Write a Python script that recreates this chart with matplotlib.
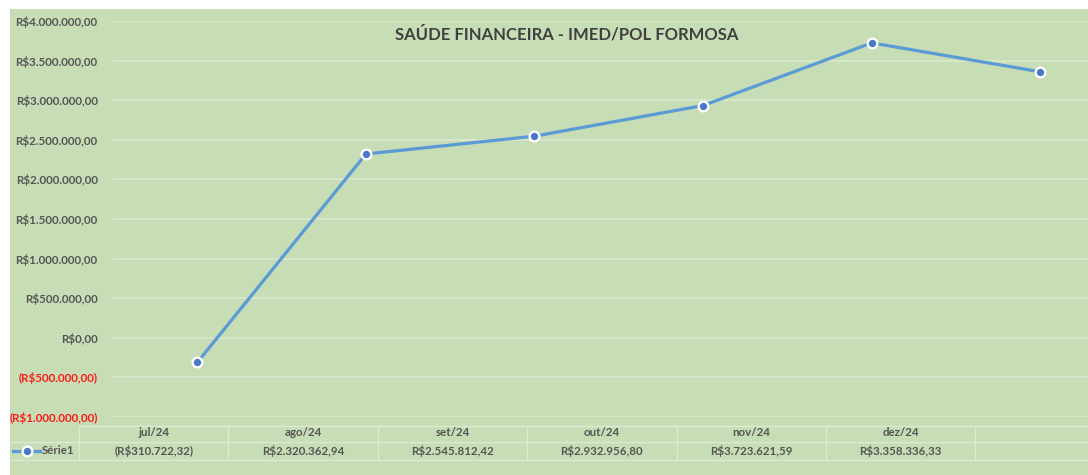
import matplotlib.pyplot as plt
from matplotlib.patches import Rectangle
from matplotlib.lines import Line2D
from matplotlib.ticker import FuncFormatter, MultipleLocator

plt.rcParams['font.family'] = ['Lato', 'DejaVu Sans']

meses = ['jul/24', 'ago/24', 'set/24', 'out/24', 'nov/24', 'dez/24']
saldo = [-310722.32, 2320362.94, 2545812.42, 2932956.80, 3723621.59, 3358336.33]
serie = 'Série1'
titulo = 'SAÚDE FINANCEIRA - IMED/POL FORMOSA'

W, H = 1088, 475
bg = '#c6ddb5'
grid_c = '#dcead0'
txt = '#555555'


def brl(v, pos=None):
    s = f'{abs(v):,.2f}'.replace(',', 'X').replace('.', ',').replace('X', '.')
    return f'(R${s})' if v < 0 else f'R${s}'


fig = plt.figure(figsize=(W / 100, H / 100), dpi=100)
fig.patch.set_facecolor('white')
# fundo verde do grafico (area do Excel)
fig.patches.append(Rectangle((10 / W, 0), 1, (H - 9) / H, transform=fig.transFigure,
                             facecolor=bg, edgecolor='none', zorder=-5))

# eixo: 6 categorias, 168.6 px cada, comecando em x=113 (passa da borda direita)
ax = fig.add_axes([113 / W, (H - 417) / H, 6 * 168.6 / W, 396 / H])
ax.set_facecolor('none')
x = list(range(len(meses)))
ax.plot(x, saldo, color='#5b9bd5', lw=2.3, marker='o', ms=7,
        mfc='#4a78c8', mec='white', mew=1.7, zorder=3, solid_capstyle='round')
ax.set_xlim(-0.5, len(meses) - 0.5)
ax.set_ylim(-1_000_000, 4_000_000)
ax.yaxis.set_major_locator(MultipleLocator(500_000))
ax.yaxis.set_major_formatter(FuncFormatter(brl))
ax.grid(axis='y', color=grid_c, lw=1.1)
ax.set_axisbelow(True)
ax.set_xticks([])
for s in ax.spines.values():
    s.set_visible(False)
ax.tick_params(axis='y', length=0, pad=11, labelsize=8.3, labelcolor=txt)
fig.canvas.draw()
for lab in ax.get_yticklabels():
    lab.set_fontweight('bold')
    if lab.get_text().startswith('('):
        lab.set_color('#ff1a1a')

fig.text(567 / W, 1 - 34 / H, titulo, ha='center', va='center',
         fontsize=12, fontweight='bold', color='#404040')

# tabela de dados abaixo do grafico
col0, colw = 79, 149.4
y_top, y_mid, y_bot = 426, 442, 460
ncols = len(meses) + 1
for yy, x0 in [(y_top, col0), (y_mid, 10), (y_bot, 10)]:
    fig.add_artist(Line2D([x0 / W, 1], [1 - yy / H] * 2, transform=fig.transFigure,
                          color=grid_c, lw=1.0))
for i in range(ncols):
    xx = col0 + i * colw
    fig.add_artist(Line2D([xx / W] * 2, [1 - y_top / H, 1 - y_bot / H],
                          transform=fig.transFigure, color=grid_c, lw=1.0))
for i, (m, v) in enumerate(zip(meses, saldo)):
    cx = (col0 + (i + 0.5) * colw) / W
    fig.text(cx, 1 - 433 / H, m, ha='center', va='center', fontsize=8.3,
             fontweight='bold', color=txt)
    fig.text(cx, 1 - 451 / H, brl(v), ha='center', va='center', fontsize=8.3,
             fontweight='bold', color=txt)

# amostra da legenda na tabela
fig.add_artist(Line2D([13 / W, 40 / W], [1 - 451 / H] * 2, transform=fig.transFigure,
                      color='#5b9bd5', lw=2.3))
fig.add_artist(Line2D([26.5 / W], [1 - 451 / H], transform=fig.transFigure,
                      marker='o', ms=7, mfc='#4a78c8', mec='white', mew=1.7, lw=0))
fig.text(42 / W, 1 - 451 / H, serie, ha='left', va='center', fontsize=8.3,
         fontweight='bold', color=txt)

fig.savefig('out.png', dpi=100, facecolor=fig.get_facecolor())
